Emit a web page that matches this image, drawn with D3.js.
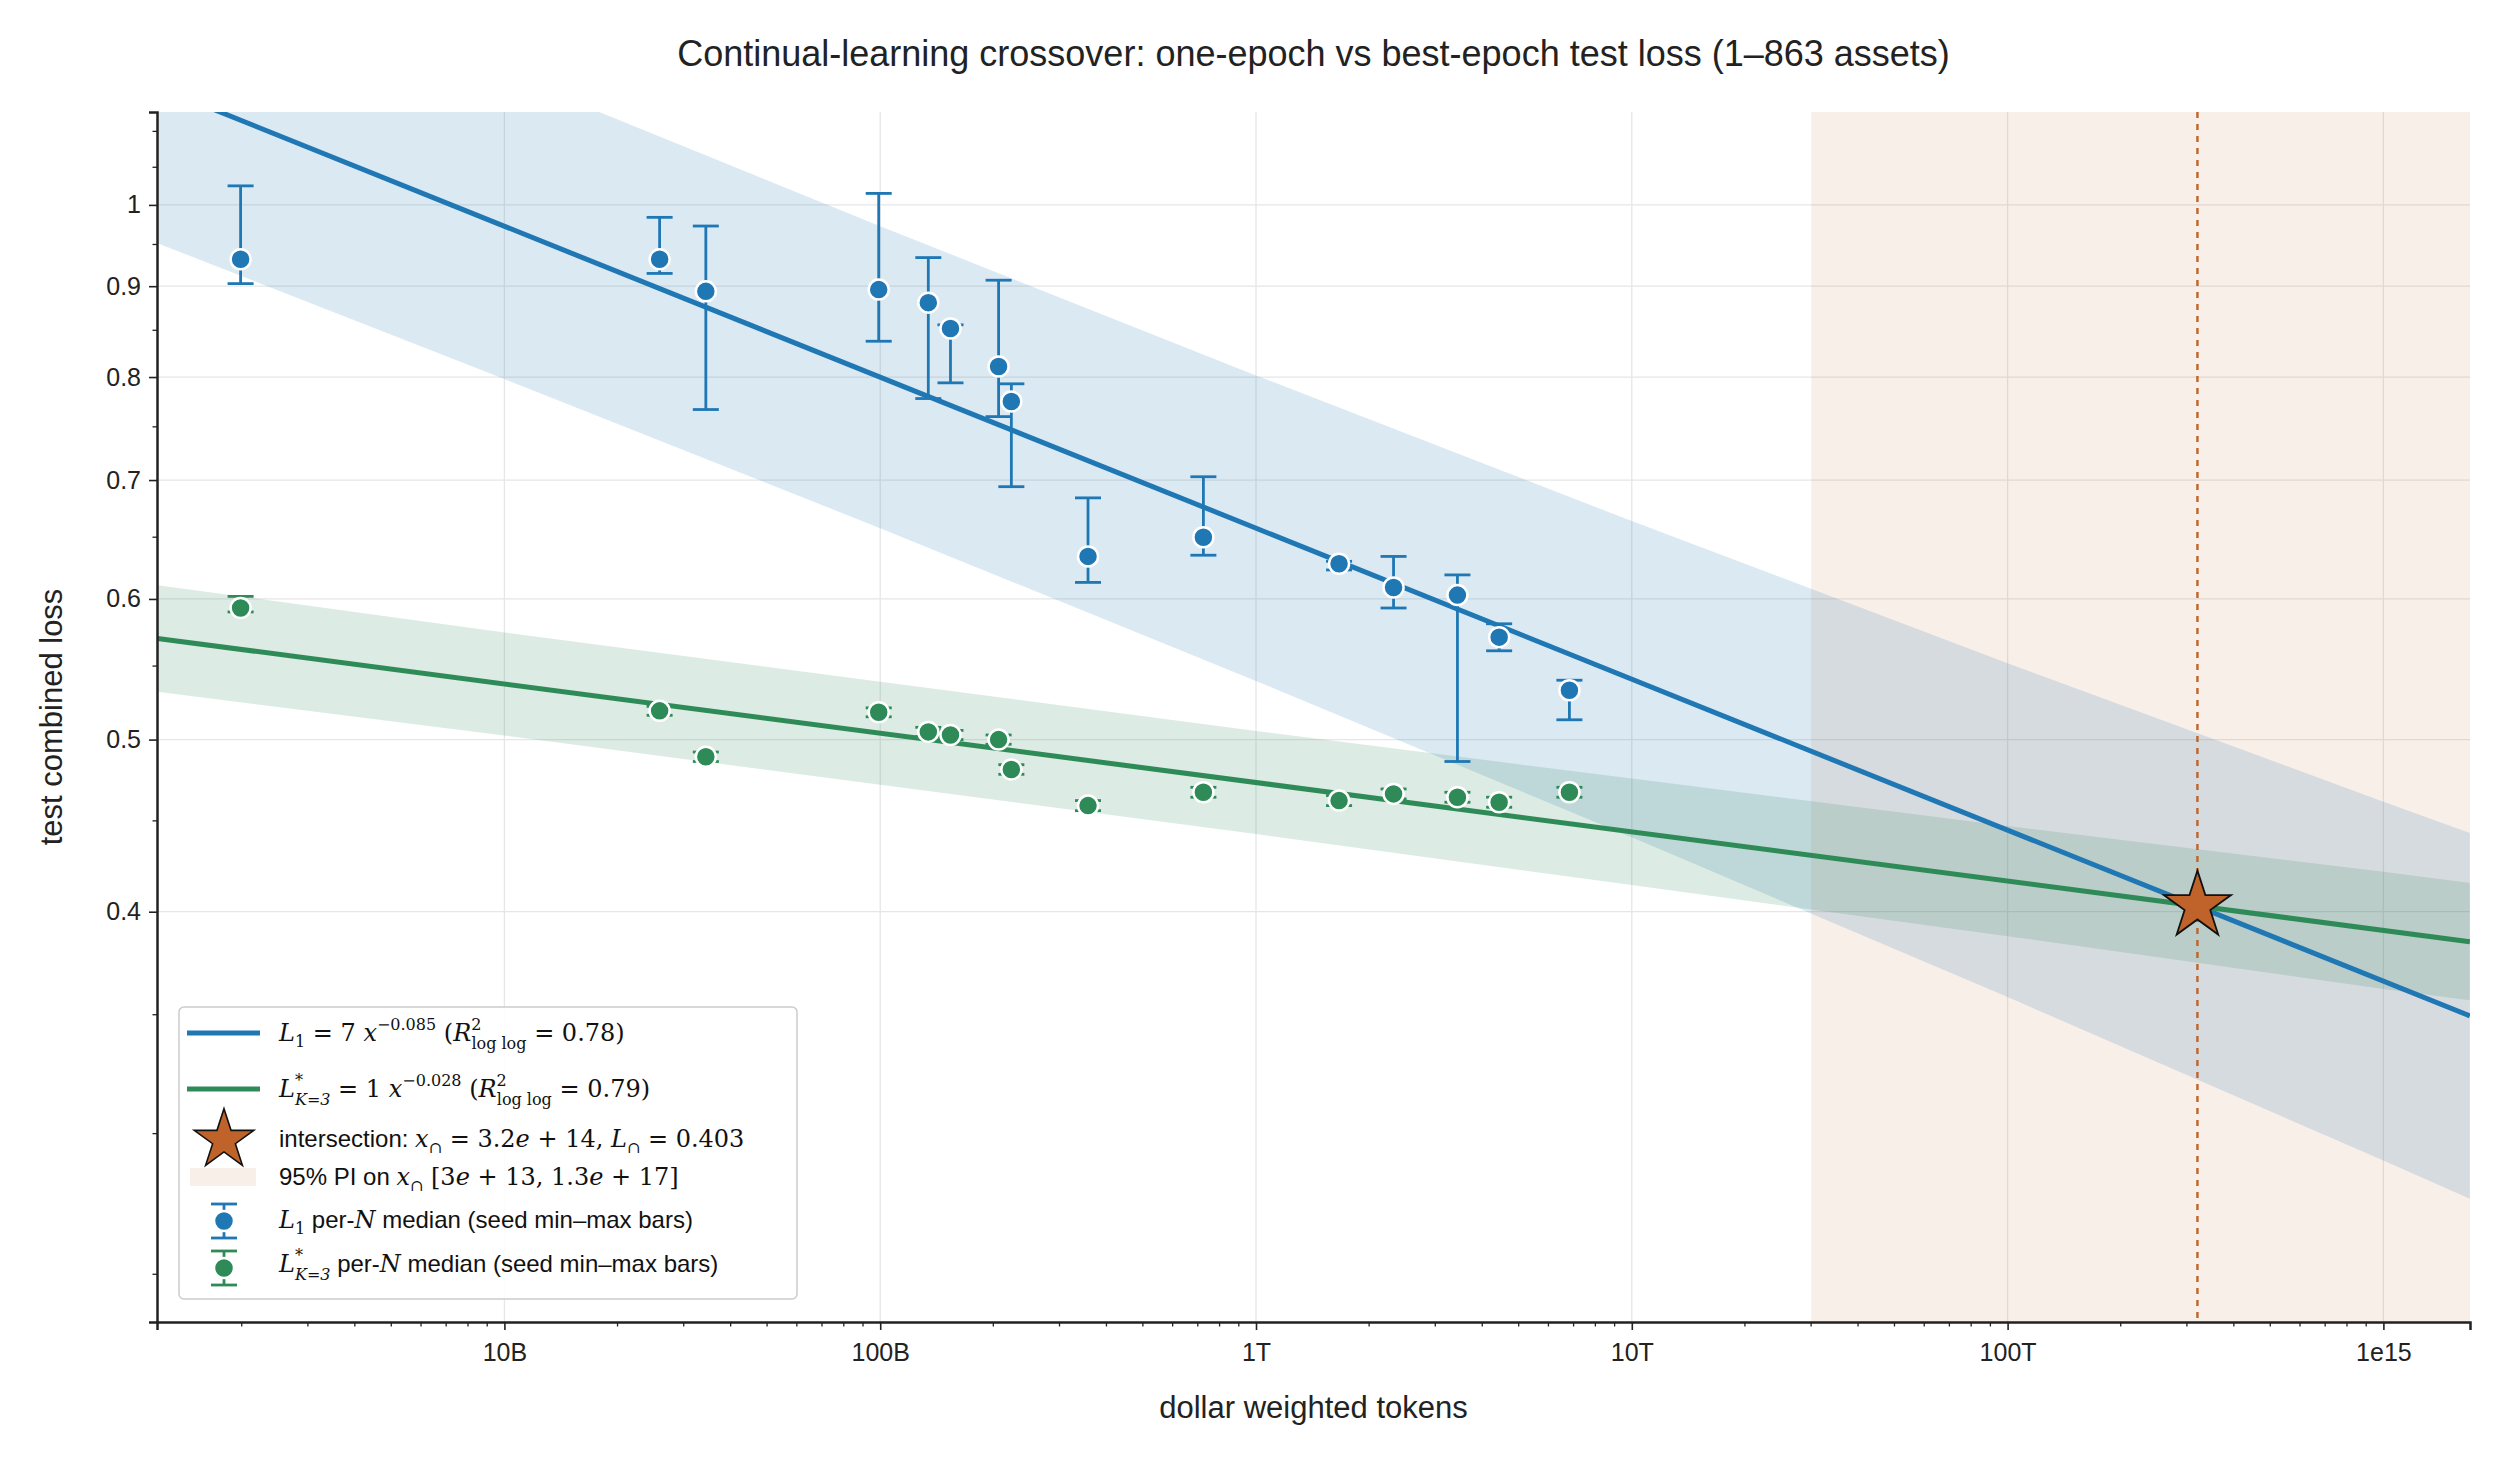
<!DOCTYPE html>
<html><head><meta charset="utf-8">
<script src="https://cdn.jsdelivr.net/npm/d3@7"></script>
<style>body{margin:0;background:#fff}svg{font-family:"Liberation Sans",Arial,sans-serif}</style>
</head><body><svg id="chart"></svg>
<script>
// per-N medians, x = log10(dollar weighted tokens)
const logX = [9.298,10.413,10.536,10.996,11.128,11.187,11.315,11.349,11.553,11.86,12.221,12.366,12.536,12.647,12.834];
const l1Med = [0.932,0.932,0.894,0.896,0.881,0.852,0.811,0.775,0.634,0.650,0.628,0.609,0.603,0.571,0.533];
const l1Hi  = [1.025,0.984,0.973,1.015,0.934,0.856,0.907,0.793,0.684,0.703,0.630,0.634,0.619,0.581,0.540];
const l1Lo  = [0.903,0.915,0.767,0.838,0.778,0.794,0.760,0.694,0.613,0.635,0.623,0.593,0.486,0.561,0.513];
const l3Med = [0.593,0.519,0.489,0.518,0.505,0.503,0.500,0.481,0.459,0.467,0.462,0.466,0.464,0.461,0.467];
const l3Hi  = [0.602,0.522,0.492,0.521,0.508,0.506,0.503,0.484,0.462,0.470,0.465,0.469,0.467,0.464,0.470];
const l3Lo  = [0.590,0.516,0.486,0.515,0.502,0.500,0.497,0.478,0.456,0.464,0.459,0.463,0.461,0.458,0.464];
// fits: log10 L = logA + b*log10 x
const fitL1 = {logA: 0.838, b: -0.085};
const fitL3 = {logA: 0.0078, b: -0.02775};
// 95% prediction band half-widths (in log10 L) at sampled x
const bandX  = [9.077,10,11,12,13,14,15,15.23];
const bandL1 = [0.088,0.086,0.085,0.086,0.089,0.094,0.101,0.103];
const bandL3 = [0.030,0.029,0.029,0.029,0.030,0.031,0.033,0.033];
const crossX = 3.2e14, crossL = 0.403;
const piRange = [3e13, 1.3e17];
const xTicks = [1e10,1e11,1e12,1e13,1e14,1e15];
const xTickLabels = ["10B","100B","1T","10T","100T","1e15"];
const yTicks = [0.4,0.5,0.6,0.7,0.8,0.9,1];
const yTickLabels = ["0.4","0.5","0.6","0.7","0.8","0.9","1"];

const W = 2496, H = 1460;
const m = {l:157, r:26, t:112, b:138};
const blue = "#1f77b4", green = "#2e8b57", orange = "#c0632b";
const svg = d3.select("#chart").attr("width", W).attr("height", H);
const x = d3.scaleLog().domain([1.19e9, 1.7e15]).range([m.l, W-m.r]);
const y = d3.scaleLog().domain([0.235, 1.128]).range([H-m.b, m.t]);
const X = lx => x(Math.pow(10, lx));
const defs = svg.append("defs");
defs.append("clipPath").attr("id","clip").append("rect")
  .attr("x", m.l).attr("y", m.t).attr("width", W-m.r-m.l).attr("height", H-m.b-m.t);

// grid
const g = svg.append("g");
g.selectAll(".gx").data(xTicks).join("line").attr("x1",d=>x(d)).attr("x2",d=>x(d))
  .attr("y1",m.t).attr("y2",H-m.b).attr("stroke","#e6e6e6").attr("stroke-width",1.3);
g.selectAll(".gy").data(yTicks).join("line").attr("y1",d=>y(d)).attr("y2",d=>y(d))
  .attr("x1",m.l).attr("x2",W-m.r).attr("stroke","#e6e6e6").attr("stroke-width",1.3);

const plot = svg.append("g").attr("clip-path","url(#clip)");
// PI region
plot.append("rect").attr("x", x(piRange[0])).attr("y", m.t)
  .attr("width", x(piRange[1]) - x(piRange[0])).attr("height", H-m.b-m.t)
  .attr("fill", orange).attr("fill-opacity", 0.1);

function band(fit, hw, color, op){
  const area = d3.area().x(d=>X(d[0]))
    .y0(d=>y(Math.pow(10, fit.logA + fit.b*d[0] - d[1])))
    .y1(d=>y(Math.pow(10, fit.logA + fit.b*d[0] + d[1])));
  plot.append("path").datum(bandX.map((v,i)=>[v, hw[i]])).attr("d", area)
    .attr("fill", color).attr("fill-opacity", op);
}
band(fitL1, bandL1, blue, 0.16);
band(fitL3, bandL3, green, 0.17);

function fitLine(fit, color){
  const ends = [bandX[0], bandX[bandX.length-1]];
  plot.append("line").attr("x1", X(ends[0])).attr("x2", X(ends[1]))
    .attr("y1", y(Math.pow(10, fit.logA+fit.b*ends[0])))
    .attr("y2", y(Math.pow(10, fit.logA+fit.b*ends[1])))
    .attr("stroke", color).attr("stroke-width", 5);
}
fitLine(fitL1, blue);
fitLine(fitL3, green);

// dashed crossover
plot.append("line").attr("x1", x(crossX)).attr("x2", x(crossX)).attr("y1", m.t).attr("y2", H-m.b)
  .attr("stroke", orange).attr("stroke-width", 2.4).attr("stroke-dasharray","6,6");

function errPoints(med, hi, lo, color){
  const gg = plot.append("g");
  logX.forEach((lx,i)=>{
    const cx = X(lx);
    gg.append("line").attr("x1",cx).attr("x2",cx).attr("y1",y(hi[i])).attr("y2",y(lo[i]))
      .attr("stroke",color).attr("stroke-width",2.8);
    [hi[i], lo[i]].forEach(v=>gg.append("line").attr("x1",cx-13).attr("x2",cx+13)
      .attr("y1",y(v)).attr("y2",y(v)).attr("stroke",color).attr("stroke-width",2.8));
  });
  gg.selectAll("circle").data(med).join("circle").attr("cx",(d,i)=>X(logX[i])).attr("cy",d=>y(d))
    .attr("r",10).attr("fill",color).attr("stroke","#fff").attr("stroke-width",2.5);
}
errPoints(l1Med, l1Hi, l1Lo, blue);
errPoints(l3Med, l3Hi, l3Lo, green);

const star = d3.symbol().type(d3.symbolStar);
plot.append("path").attr("d", star.size(1400)()).attr("transform",`translate(${x(crossX)},${y(crossL)})`)
  .attr("fill", orange).attr("stroke","#111").attr("stroke-width",1.8);

// axes
const xAxis = d3.axisBottom(x).tickValues(xTicks).tickFormat((d,i)=>xTickLabels[i]).tickSize(8);
const xa = svg.append("g").attr("transform",`translate(0,${H-m.b})`).call(xAxis);
const minorX = [];
for (let e=9; e<=15; e++) for (let k=2;k<=9;k++){const v=k*Math.pow(10,e); if(v>x.domain()[0]&&v<x.domain()[1]) minorX.push(v);}
svg.append("g").attr("transform",`translate(0,${H-m.b})`).selectAll("line").data(minorX).join("line")
  .attr("x1",d=>x(d)).attr("x2",d=>x(d)).attr("y1",0).attr("y2",4.5).attr("stroke","#222").attr("stroke-width",1.3);
const yAxis = d3.axisLeft(y).tickValues(yTicks).tickFormat((d,i)=>yTickLabels[i]).tickSize(8);
const ya = svg.append("g").attr("transform",`translate(${m.l},0)`).call(yAxis);
const minorY = [0.25,0.3,0.35,0.45,0.55,0.65,0.75,0.85,0.95,1.05,1.1];
svg.append("g").attr("transform",`translate(${m.l},0)`).selectAll("line").data(minorY).join("line")
  .attr("y1",d=>y(d)).attr("y2",d=>y(d)).attr("x1",0).attr("x2",-4.5).attr("stroke","#222").attr("stroke-width",1.3);
[xa, ya].forEach(a=>{
  a.select(".domain").attr("stroke","#222").attr("stroke-width",2.5);
  a.selectAll(".tick line").attr("stroke","#222").attr("stroke-width",1.6);
  a.selectAll(".tick text").attr("font-size",25).attr("fill","#222").attr("font-family","Liberation Sans, Arial");
});
xa.selectAll(".tick text").attr("dy","1.1em");
ya.selectAll(".tick text").attr("dx","-0.2em");

svg.append("text").attr("x",(m.l+W-m.r)/2).attr("y",1418).attr("text-anchor","middle")
  .attr("font-size",31).attr("fill","#222").text("dollar weighted tokens");
svg.append("text").attr("transform",`translate(62,${(m.t+H-m.b)/2}) rotate(-90)`).attr("text-anchor","middle")
  .attr("font-size",31).attr("fill","#222").text("test combined loss");
svg.append("text").attr("x",(m.l+W-m.r)/2).attr("y",66).attr("text-anchor","middle")
  .attr("font-size",36).attr("fill","#222")
  .text("Continual-learning crossover: one-epoch vs best-epoch test loss (1–863 assets)");

// legend
const lg = svg.append("g");
lg.append("rect").attr("x",179).attr("y",1007).attr("width",618).attr("height",292).attr("rx",5)
  .attr("fill","#fff").attr("fill-opacity",0.85).attr("stroke","#ccc").attr("stroke-width",1.5);
const SER = "DejaVu Serif, Liberation Serif, serif";
function rich(yy, parts){
  const t = lg.append("text").attr("x",279).attr("y",yy).attr("font-size",24).attr("fill","#111");
  parts.forEach(p=>{
    const s = t.append("tspan").text(p.t);
    if (p.m) s.attr("font-family", SER);
    if (p.i) s.attr("font-style","italic");
    if (p.dy) s.attr("dy", p.dy);
    if (p.dx) s.attr("dx", p.dx);
    if (p.fs) s.attr("font-size", p.fs);
  });
}
const lineLeg = (yy,c)=>lg.append("line").attr("x1",187).attr("x2",260).attr("y1",yy).attr("y2",yy).attr("stroke",c).attr("stroke-width",5);
lineLeg(1033, blue); lineLeg(1089, green);
rich(1041,[{t:"L",m:1,i:1},{t:"1",m:1,fs:16,dy:6},{t:" = 7 ",m:1,dy:-6},{t:"x",m:1,i:1},{t:"−0.085",m:1,fs:16,dy:-11},
  {t:"  (",m:1,dy:11},{t:"R",m:1,i:1},{t:"2",m:1,fs:16,dy:-11},{t:"log log",m:1,fs:16,dy:19,dx:-10},{t:" = 0.78)",m:1,dy:-8}]);
rich(1097,[{t:"L",m:1,i:1},{t:"*",m:1,fs:16,dy:-11},{t:"K=3",m:1,i:1,fs:16,dy:19,dx:-8},{t:" = 1 ",m:1,dy:-8},{t:"x",m:1,i:1},{t:"−0.028",m:1,fs:16,dy:-11},
  {t:"  (",m:1,dy:11},{t:"R",m:1,i:1},{t:"2",m:1,fs:16,dy:-11},{t:"log log",m:1,fs:16,dy:19,dx:-10},{t:" = 0.79)",m:1,dy:-8}]);
lg.append("path").attr("d", star.size(1100)()).attr("transform","translate(224,1140)")
  .attr("fill",orange).attr("stroke","#111").attr("stroke-width",1.6);
rich(1147,[{t:"intersection: "},{t:"x",m:1,i:1},{t:"∩",m:1,fs:16,dy:6},{t:" = 3.2",m:1,dy:-6},{t:"e",m:1,i:1},{t:" + 14, ",m:1},
  {t:"L",m:1,i:1},{t:"∩",m:1,fs:16,dy:6},{t:" = 0.403",m:1,dy:-6}]);
lg.append("rect").attr("x",190).attr("y",1168).attr("width",66).attr("height",18).attr("fill",orange).attr("fill-opacity",0.1);
rich(1185,[{t:"95% PI on "},{t:"x",m:1,i:1},{t:"∩",m:1,fs:16,dy:6},{t:"  [3",m:1,dy:-6},{t:"e",m:1,i:1},{t:" + 13, 1.3",m:1},{t:"e",m:1,i:1},{t:" + 17]",m:1}]);
function errLeg(yy,c){
  lg.append("line").attr("x1",224).attr("x2",224).attr("y1",yy-17).attr("y2",yy+17).attr("stroke",c).attr("stroke-width",2.8);
  [yy-17,yy+17].forEach(v=>lg.append("line").attr("x1",211).attr("x2",237).attr("y1",v).attr("y2",v).attr("stroke",c).attr("stroke-width",2.8));
  lg.append("circle").attr("cx",224).attr("cy",yy).attr("r",10).attr("fill",c).attr("stroke","#fff").attr("stroke-width",2.5);
}
errLeg(1221, blue); errLeg(1268, green);
rich(1228,[{t:"L",m:1,i:1},{t:"1",m:1,fs:16,dy:6},{t:" per-",dy:-6},{t:"N",m:1,i:1},{t:" median (seed min–max bars)"}]);
rich(1272,[{t:"L",m:1,i:1},{t:"*",m:1,fs:16,dy:-11},{t:"K=3",m:1,i:1,fs:16,dy:19,dx:-8},{t:" per-",dy:-8},{t:"N",m:1,i:1},{t:" median (seed min–max bars)"}]);
</script></body></html>
